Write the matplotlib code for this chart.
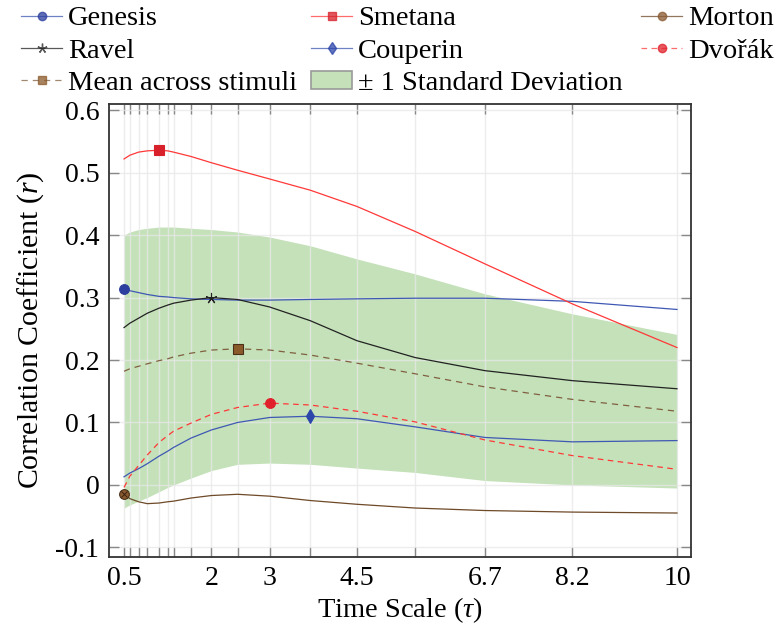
import matplotlib
matplotlib.use("Agg")
import matplotlib.pyplot as plt
from matplotlib.lines import Line2D
from matplotlib.patches import Patch

plt.rcParams['font.family'] = ['Liberation Serif', 'DejaVu Serif']
plt.rcParams['mathtext.fontset'] = 'custom'
plt.rcParams['mathtext.rm'] = 'Liberation Serif'
plt.rcParams['mathtext.it'] = 'Liberation Serif:italic'
plt.rcParams['axes.unicode_minus'] = False

## time scales (tau) at which the correlation was computed
tau = [0.5, 0.6, 0.75, 0.9, 1.1, 1.25, 1.35, 1.65, 2, 2.45, 3, 3.7, 4.5, 5.5, 6.7, 8.2, 10]
tau_labels = {0.5: "0.5", 2: "2", 3: "3", 4.5: "4.5", 6.7: "6.7", 8.2: "8.2", 10: "10"}

genesis  = [0.314, 0.311, 0.308, 0.305, 0.302, 0.301, 0.300, 0.298, 0.297, 0.296, 0.296, 0.297, 0.298, 0.299, 0.299, 0.294, 0.281]
smetana  = [0.522, 0.528, 0.533, 0.535, 0.536, 0.535, 0.533, 0.526, 0.516, 0.504, 0.490, 0.472, 0.446, 0.406, 0.354, 0.290, 0.220]
morton   = [-0.014, -0.022, -0.027, -0.030, -0.029, -0.027, -0.026, -0.021, -0.017, -0.015, -0.018, -0.025, -0.031, -0.037, -0.041, -0.0435, -0.045]
ravel    = [0.252, 0.259, 0.267, 0.275, 0.283, 0.288, 0.291, 0.296, 0.300, 0.297, 0.285, 0.263, 0.231, 0.204, 0.183, 0.167, 0.154]
couperin = [0.013, 0.019, 0.026, 0.034, 0.046, 0.054, 0.060, 0.075, 0.088, 0.100, 0.108, 0.110, 0.106, 0.093, 0.076, 0.069, 0.071]
dvorak   = [-0.004, 0.014, 0.031, 0.048, 0.068, 0.079, 0.086, 0.099, 0.113, 0.124, 0.131, 0.128, 0.118, 0.101, 0.072, 0.047, 0.025]
mean     = [0.182, 0.186, 0.190, 0.194, 0.199, 0.202, 0.205, 0.211, 0.216, 0.218, 0.216, 0.208, 0.195, 0.178, 0.157, 0.137, 0.118]
sd_upper = [0.400, 0.405, 0.409, 0.411, 0.413, 0.413, 0.413, 0.411, 0.409, 0.405, 0.397, 0.383, 0.362, 0.338, 0.306, 0.274, 0.241]
sd_lower = [-0.037, -0.032, -0.026, -0.020, -0.011, -0.004, 0.000, 0.011, 0.023, 0.033, 0.035, 0.033, 0.027, 0.020, 0.007, 0.000, -0.005]

yticks = [-0.1, 0, 0.1, 0.2, 0.3, 0.4, 0.5, 0.6]
ytick_labels = ["-0.1", "0", "0.1", "0.2", "0.3", "0.4", "0.5", "0.6"]

fig = plt.figure(figsize=(7.77, 6.32), dpi=100)
ax = fig.add_axes([0.1403, 0.1191, 0.749, 0.7163])

ax.fill_between(tau, sd_lower, sd_upper, color='#c4e1b9', lw=0, zorder=0.3)

lw = 0.9
# (label, values, color, linestyle, marker, marker colour, index of marked point)
series = [
    ("Genesis",  genesis,  '#3f58b4', '-',             'o',       '#2c3f9e', 0),
    ("Smetana",  smetana,  '#ff3838', '-',             's',       '#d8202a', 4),
    ("Morton",   morton,   '#6e4a28', '-',             'o',       '#8a5a30', 0),
    ("Ravel",    ravel,    '#222222', '-',             (5, 2, 0), '#222222', 8),
    ("Couperin", couperin, '#3f58b4', '-',             'd',       '#2c45aa', 11),
    ("Dvořák",   dvorak,   '#ff3838', (0, (4.5, 3.5)), 'o',       '#e0202a', 10),
    ("Mean across stimuli", mean, '#806040', (0, (5, 4)), 's',    '#8b5a2b', 9),
]

handles = {}
for name, ys, col, ls, mk, mcol, im in series:
    ax.plot(tau, ys, color=col, ls=ls, lw=lw, zorder=2)
    ms = 8 if mk == (5, 2, 0) else 7
    ax.plot([tau[im]], [ys[im]], ls='none', marker=mk, ms=ms, mfc=mcol,
            mec='#4a3018' if col in ('#6e4a28', '#806040') else mcol,
            mew=0.8, zorder=3)
    if name == "Morton":
        ax.plot([tau[im]], [ys[im]], ls='none', marker='x', ms=4.5, mec='#3a2410',
                mew=0.7, zorder=4)
    handles[name] = Line2D([], [], color=col, ls=ls, lw=lw, alpha=0.75,
                           marker=mk, ms=ms - 1, mfc=mcol, mec=mcol)
handles["± 1 Standard Deviation"] = Patch(facecolor='#c4e1b9', edgecolor='#999999', lw=1.2)

ax.set_xlim(0.242, 10.24)
ax.set_ylim(-0.115, 0.61)
ax.set_xticks(tau)
ax.set_xticklabels([tau_labels.get(t, "") for t in tau])
ax.set_yticks(yticks)
ax.set_yticklabels(ytick_labels)

ax.grid(True, color='#e8e8e8', lw=1.0, alpha=0.75, zorder=1)
ax.tick_params(direction='in', length=7, width=1.0, color='#888888',
               top=True, right=True, labelsize=20, pad=7)
for sp in ax.spines.values():
    sp.set_color('#333333')
    sp.set_linewidth(1.3)

ax.set_xlabel(r"Time Scale ($\tau$)", fontsize=20.5, labelpad=3)
ax.set_ylabel(r"Correlation Coefficient ($r$)", fontsize=21.5, labelpad=7)

## three legend columns laid out above the axes
cols = [
    (21, ["Genesis", "Ravel", "Mean across stimuli"]),
    (311, ["Smetana", "Couperin", "± 1 Standard Deviation"]),
    (641, ["Morton", "Dvořák"]),
]
for x0, names in cols:
    fig.legend([handles[n] for n in names], names, loc='upper left',
               bbox_to_anchor=(x0 / 777, 1 - 6 / 632), frameon=False,
               fontsize=20.5, borderpad=0, borderaxespad=0,
               handlelength=1.45, handletextpad=0.2, labelspacing=0.26,
               handleheight=0.6)

fig.savefig("out.png", dpi=100)
